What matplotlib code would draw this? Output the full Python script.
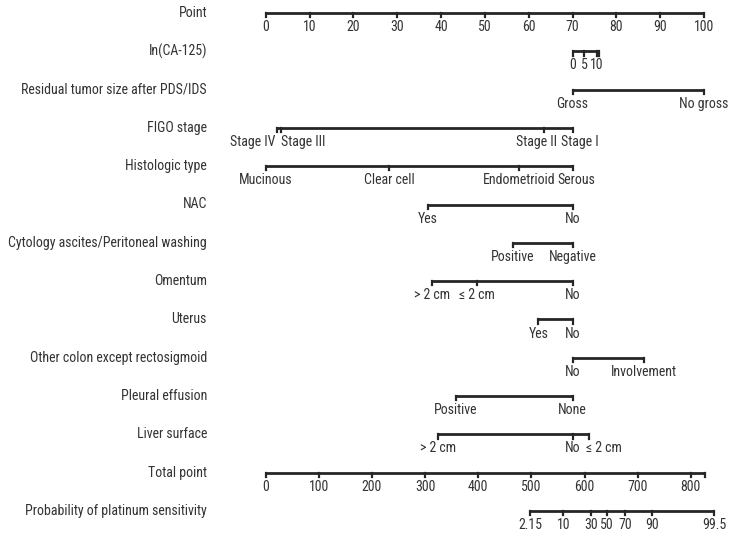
import matplotlib
matplotlib.use("Agg")
import matplotlib.pyplot as plt
from matplotlib import font_manager

# pick a narrow sans if one is installed
names = {f.name for f in font_manager.fontManager.ttflist}
families = [n for n in ["Liberation Sans Narrow", "Roboto Condensed", "Roboto"] if n in names]
plt.rcParams['font.family'] = families + ['DejaVu Sans']

# row labels, top to bottom
row_labels = ["Point", "In(CA-125)", "Residual tumor size after PDS/IDS", "FIGO stage",
              "Histologic type", "NAC", "Cytology ascites/Peritoneal washing", "Omentum",
              "Uterus", "Other colon except rectosigmoid", "Pleural effusion",
              "Liver surface", "Total point", "Probability of platinum sensitivity"]

point_ticks = list(range(0, 101, 10))

# ln(CA-125): value -> points
ca125_labels = ["0", "5", "10", ""]
ca125_points = [70.0, 72.7, 75.6, 76.1]

# categorical predictors: tick labels and points
residual_labels = ["Gross", "No gross"]
residual_points = [70.0, 100.0]
figo_labels = ["Stage IV", "Stage III", "Stage II", "Stage I"]
figo_points = [2.6, 3.6, 63.4, 70.0]
histo_labels = ["Mucinous", "Clear cell", "Endometrioid", "Serous"]
histo_points = [0.0, 28.2, 57.8, 70.0]
nac_labels = ["Yes", "No"]
nac_points = [37.0, 70.0]
cyto_labels = ["Positive", "Negative"]
cyto_points = [56.4, 70.0]
omentum_labels = ["> 2 cm", "\u2264 2 cm", "No"]
omentum_points = [37.9, 48.2, 70.0]
uterus_labels = ["Yes", "No"]
uterus_points = [62.2, 70.0]
colon_labels = ["No", "Involvement"]
colon_points = [70.0, 86.2]
pleural_labels = ["Positive", "None"]
pleural_points = [43.4, 70.0]
liver_labels = ["> 2 cm", "No", "\u2264 2 cm"]
liver_points = [39.3, 70.0, 73.7]

total_ticks = list(range(0, 801, 100))
total_max = 826
prob_labels = ["2.15", "10", "30", "50", "70", "90", "99.5"]
prob_total = [497.7, 560, 612, 642, 676, 727, 844]

# placement tweaks for crowded labels: (alignment, shift in pixels)
label_place = {("FIGO stage", "Stage IV"): ("right", -2), ("FIGO stage", "Stage III"): ("left", 0),
               ("FIGO stage", "Stage II"): ("center", -7), ("FIGO stage", "Stage I"): ("center", 7),
               ("Histologic type", "Serous"): ("center", 4),
               ("Liver surface", "\u2264 2 cm"): ("left", -3)}

fig = plt.figure(figsize=(7.31, 5.40), dpi=100)
ax = fig.add_axes([0, 0, 1, 1])
px = 100 / 438.3          # points per pixel on the Point scale
ax.set_xlim(-265.7 * px, (731 - 265.7) * px)
row_h = 38.3
ax.set_ylim((540 - 13) / row_h, -13 / row_h)
ax.axis("off")

line_c = "#262626"
text_c = "#333333"
fs = 10
tick_len = 0.11
lab_off = 0.37
total_scale = 97.0 / 800   # total points -> point-scale units
label_right = (207 - 265.7) * px


def draw_scale(row, xs, labels, name=None):
    ax.plot([min(xs), max(xs)], [row, row], color=line_c, lw=2, solid_capstyle="butt")
    for x, lab in zip(xs, labels):
        ax.plot([x, x], [row, row + tick_len], color=line_c, lw=1.6)
        ha, dx = label_place.get((name, lab), ("center", 0))
        if lab:
            ax.text(x + dx * px, row + lab_off, lab, ha=ha, va="center",
                    fontsize=fs, color=text_c)


for i, name in enumerate(row_labels):
    ax.text(label_right, i, name, ha="right", va="center", fontsize=fs, color=text_c)

draw_scale(0, point_ticks, [str(t) for t in point_ticks])
draw_scale(1, ca125_points, ca125_labels)
rows = [(residual_points, residual_labels, "Residual tumor size after PDS/IDS"),
        (figo_points, figo_labels, "FIGO stage"),
        (histo_points, histo_labels, "Histologic type"),
        (nac_points, nac_labels, "NAC"),
        (cyto_points, cyto_labels, "Cytology ascites/Peritoneal washing"),
        (omentum_points, omentum_labels, "Omentum"),
        (uterus_points, uterus_labels, "Uterus"),
        (colon_points, colon_labels, "Other colon except rectosigmoid"),
        (pleural_points, pleural_labels, "Pleural effusion"),
        (liver_points, liver_labels, "Liver surface")]
for pts, labs, name in rows:
    draw_scale(row_labels.index(name), pts, labs, name)

tot_x = [t * total_scale for t in total_ticks] + [total_max * total_scale]
draw_scale(12, tot_x, [str(t) for t in total_ticks] + [""])
draw_scale(13, [t * total_scale for t in prob_total], prob_labels)

fig.savefig("out.png", dpi=100, facecolor="white")
